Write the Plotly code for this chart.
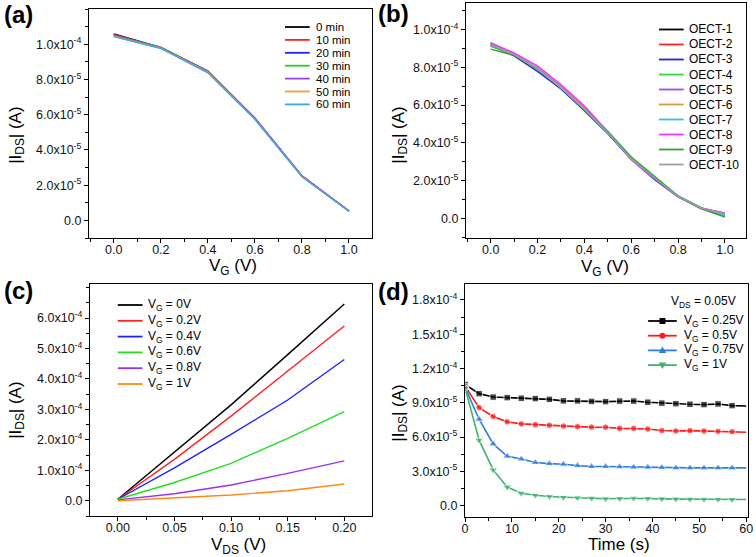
import numpy as np
import plotly.graph_objects as go

W, H = 756, 557
FONT = "Liberation Sans, Arial, sans-serif"


def PX(x):
    return x / W


def PY(y):
    return 1 - y / H


# ---------------- data ----------------
# (a) transfer curves over time (values in 1e-4 A)
vg_a = [0.0, 0.2, 0.4, 0.6, 0.8, 1.0]
names_a = ["0 min", "10 min", "20 min", "30 min", "40 min", "50 min", "60 min"]
colors_a = ["#000000", "#FF2020", "#2020FF", "#20D020", "#9A40F0", "#FF9A30", "#35A8F5"]
ids_0 = [1.058, 0.982, 0.848, 0.578, 0.252, 0.053]
ids_10 = [1.055, 0.980, 0.846, 0.580, 0.253, 0.053]
ids_20 = [1.052, 0.979, 0.844, 0.576, 0.251, 0.052]
ids_30 = [1.050, 0.984, 0.845, 0.577, 0.250, 0.053]
ids_40 = [1.048, 0.981, 0.843, 0.582, 0.252, 0.054]
ids_50 = [1.045, 0.978, 0.840, 0.575, 0.249, 0.052]
ids_60 = [1.043, 0.976, 0.838, 0.574, 0.248, 0.052]
series_a = [ids_0, ids_10, ids_20, ids_30, ids_40, ids_50, ids_60]

# (b) device-to-device transfer curves (values in 1e-4 A)
vg_b = [0.0, 0.1, 0.2, 0.3, 0.4, 0.5, 0.6, 0.7, 0.8, 0.9, 1.0]
names_b = ["OECT-1", "OECT-2", "OECT-3", "OECT-4", "OECT-5",
           "OECT-6", "OECT-7", "OECT-8", "OECT-9", "OECT-10"]
colors_b = ["#000000", "#FF2020", "#2020FF", "#30E030", "#9A50F0",
            "#D0A040", "#40B8F5", "#FF30FF", "#3A9A3A", "#A0A0A0"]
oect_1 = [0.920, 0.870, 0.790, 0.690, 0.575, 0.452, 0.318, 0.213, 0.117, 0.053, 0.022]
oect_2 = [0.925, 0.872, 0.798, 0.697, 0.582, 0.455, 0.320, 0.212, 0.118, 0.054, 0.026]
oect_3 = [0.915, 0.860, 0.778, 0.685, 0.570, 0.448, 0.312, 0.205, 0.114, 0.051, 0.020]
oect_4 = [0.910, 0.865, 0.792, 0.698, 0.580, 0.462, 0.326, 0.222, 0.120, 0.056, 0.014]
oect_5 = [0.920, 0.868, 0.792, 0.700, 0.586, 0.456, 0.320, 0.214, 0.117, 0.054, 0.026]
oect_6 = [0.925, 0.870, 0.802, 0.702, 0.582, 0.455, 0.316, 0.212, 0.117, 0.053, 0.022]
oect_7 = [0.932, 0.873, 0.794, 0.694, 0.578, 0.452, 0.318, 0.214, 0.118, 0.053, 0.018]
oect_8 = [0.928, 0.876, 0.808, 0.708, 0.596, 0.458, 0.312, 0.210, 0.116, 0.054, 0.028]
oect_9 = [0.896, 0.863, 0.788, 0.690, 0.574, 0.456, 0.322, 0.218, 0.115, 0.050, 0.007]
oect_10 = [0.918, 0.868, 0.790, 0.692, 0.577, 0.453, 0.316, 0.212, 0.116, 0.053, 0.025]
series_b = [oect_1, oect_2, oect_3, oect_4, oect_5, oect_6, oect_7, oect_8, oect_9, oect_10]

# (c) output curves (values in 1e-4 A)
vds_c = [0.0, 0.05, 0.10, 0.15, 0.20]
names_c = ["V<sub>G</sub> = 0V", "V<sub>G</sub> = 0.2V", "V<sub>G</sub> = 0.4V",
           "V<sub>G</sub> = 0.6V", "V<sub>G</sub> = 0.8V", "V<sub>G</sub> = 1V"]
colors_c = ["#000000", "#FF2020", "#2020FF", "#20E020", "#9A30F0", "#FF8A10"]
out_0 = [0.05, 1.60, 3.15, 4.80, 6.46]
out_02 = [0.05, 1.36, 2.78, 4.26, 5.74]
out_04 = [0.05, 1.08, 2.18, 3.31, 4.64]
out_06 = [0.05, 0.60, 1.23, 2.05, 2.93]
out_08 = [0.03, 0.23, 0.52, 0.90, 1.31]
out_1 = [0.00, 0.09, 0.19, 0.33, 0.55]
series_c = [out_0, out_02, out_04, out_06, out_08, out_1]

# (d) transient response at V_DS = 0.05 V (values in 1e-5 A)
time_d = [0, 3, 6, 9, 12, 15, 18, 21, 24, 27, 30, 33, 36, 39, 42, 45, 48, 51, 54, 57, 60]
names_d = ["V<sub>G</sub> = 0.25V", "V<sub>G</sub> = 0.5V",
           "V<sub>G</sub> = 0.75V", "V<sub>G</sub> = 1V"]
colors_d = ["#000000", "#FF1A1A", "#2F7DE0", "#3DB36E"]
symbols_d = ["square", "circle", "triangle-up", "triangle-down"]
tr_025 = [10.6, 9.80, 9.50, 9.45, 9.40, 9.37, 9.30, 9.17, 9.17, 9.12, 9.10,
          9.15, 9.15, 9.05, 8.97, 8.92, 8.87, 8.84, 8.90, 8.75, 8.72]
tr_05 = [10.45, 8.58, 7.80, 7.33, 7.15, 7.08, 7.03, 6.96, 6.91, 6.87, 6.86,
         6.76, 6.76, 6.70, 6.57, 6.53, 6.56, 6.53, 6.50, 6.47, 6.42]
tr_075 = [10.35, 7.56, 5.40, 4.32, 4.07, 3.77, 3.67, 3.62, 3.50, 3.42, 3.42,
          3.39, 3.36, 3.36, 3.33, 3.30, 3.30, 3.30, 3.30, 3.30, 3.30]
tr_1 = [10.3, 5.73, 3.12, 1.62, 1.08, 0.90, 0.80, 0.72, 0.68, 0.65, 0.60,
        0.62, 0.65, 0.62, 0.59, 0.57, 0.56, 0.55, 0.54, 0.53, 0.53]
series_d = [tr_025, tr_05, tr_075, tr_1]

# ---------------- figure ----------------
fig = go.Figure()

for name, col, vals in zip(names_a, colors_a, series_a):
    fig.add_trace(go.Scatter(x=vg_a, y=[v * 1e-4 for v in vals], mode="lines", name=name,
                             line=dict(color=col, width=1.4), xaxis="x", yaxis="y",
                             showlegend=False))
for name, col, vals in zip(names_b, colors_b, series_b):
    fig.add_trace(go.Scatter(x=vg_b, y=[v * 1e-4 for v in vals], mode="lines", name=name,
                             line=dict(color=col, width=1.4), xaxis="x2", yaxis="y2",
                             showlegend=False))
for name, col, vals in zip(names_c, colors_c, series_c):
    fig.add_trace(go.Scatter(x=vds_c, y=[v * 1e-4 for v in vals], mode="lines", name=name,
                             line=dict(color=col, width=1.4), xaxis="x3", yaxis="y3",
                             showlegend=False))
for name, col, sym, vals in zip(names_d, colors_d, symbols_d, series_d):
    base = 6.5 if sym in ("square", "circle") else 8
    sizes = [base] * (len(time_d) - 1) + [0]
    fig.add_trace(go.Scatter(x=time_d, y=[v * 1e-5 for v in vals], mode="lines+markers",
                             name=name, line=dict(color=col, width=1.6),
                             marker=dict(symbol=sym, size=sizes, color=col),
                             xaxis="x4", yaxis="y4", showlegend=False))


def sci(v):
    if v == 0:
        return "0.0"
    e = int(np.floor(np.log10(abs(v)) + 1e-9))
    m = v / 10 ** e
    return f"{m:.1f}x10<sup>{e}</sup>"


def axis(domain, rng, tickvals, ticktext, minor_step, anchor, is_x):
    lo, hi = rng
    start = np.ceil(lo / minor_step - 1e-9) * minor_step
    minors = [float(v) for v in np.arange(start, hi + 1e-12, minor_step)]
    d = dict(domain=domain, range=rng, tickmode="array", tickvals=tickvals, ticktext=ticktext,
             ticks="outside", ticklen=4, tickwidth=1.2, tickcolor="black",
             showline=True, linecolor="black", linewidth=1.4, mirror=True,
             showgrid=False, zeroline=False, anchor=anchor, ticklabeloverflow="allow",
             tickfont=dict(family=FONT, size=12.5, color="#111111"),
             minor=dict(tickvals=minors, ticks="outside", ticklen=2.5, tickwidth=1,
                        tickcolor="black", showgrid=False))
    if is_x:
        d["ticklabelstandoff"] = -4
    return d


yt_ab = [0, 2e-5, 4e-5, 6e-5, 8e-5, 1e-4]
yt_c = [0, 1e-4, 2e-4, 3e-4, 4e-4, 5e-4, 6e-4]
yt_d = [0, 3e-5, 6e-5, 9e-5, 1.2e-4, 1.5e-4, 1.8e-4]
xt_ab = [0.0, 0.2, 0.4, 0.6, 0.8, 1.0]
xt_c = [0.0, 0.05, 0.10, 0.15, 0.20]
xt_d = [0, 10, 20, 30, 40, 50, 60]

fig.update_layout(
    xaxis=axis([PX(87), PX(373)], [-0.105, 1.098], xt_ab, [f"{v:.1f}" for v in xt_ab], 0.1, "y", True),
    yaxis=axis([PY(238), PY(9)], [-1.0e-5, 1.2e-4], yt_ab, [sci(v) for v in yt_ab], 1e-5, "x", False),
    xaxis2=axis([PX(468), PX(751)], [-0.105, 1.09], xt_ab, [f"{v:.1f}" for v in xt_ab], 0.1, "y2", True),
    yaxis2=axis([PY(238), PY(3)], [-1.04e-5, 1.14e-4], yt_ab, [sci(v) for v in yt_ab], 1e-5, "x2", False),
    xaxis3=axis([PX(88), PX(373)], [-0.0245, 0.2245], xt_c, [f"{v:.2f}" for v in xt_c], 0.025, "y3", True),
    yaxis3=axis([PY(516), PY(284)], [-0.5e-4, 7.12e-4], yt_c, [sci(v) for v in yt_c], 0.5e-4, "x3", False),
    xaxis4=axis([PX(467), PX(753)], [0, 60.4], xt_d, [str(v) for v in xt_d], 5, "y4", True),
    yaxis4=axis([PY(517), PY(284)], [-1.0e-5, 1.94e-4], yt_d, [sci(v) for v in yt_d], 1.5e-5, "x4", False),
)

annotations = []
shapes = []


def text(s, x, y, size=12, xanchor="left", angle=0, bold=False, yanchor="middle"):
    annotations.append(dict(text=f"<b>{s}</b>" if bold else s, x=PX(x), y=PY(y),
                            xref="paper", yref="paper", showarrow=False, borderpad=0,
                            xanchor=xanchor, yanchor=yanchor, textangle=angle,
                            font=dict(family=FONT, size=size, color="black")))


# panel labels
text("(a)", 0, 15, size=24, bold=True)
text("(b)", 378, 13, size=24, bold=True)
text("(c)", 0, 290, size=24, bold=True)
text("(d)", 378, 291, size=24, bold=True)

# axis titles
ytitle = "|I<sub>DS</sub>| (A)"
text(ytitle, 14, 135, size=17, xanchor="center", angle=-90)
text(ytitle, 401, 135, size=17, xanchor="center", angle=-90)
text(ytitle, 14, 410, size=17, xanchor="center", angle=-90)
text(ytitle, 401, 413, size=17, xanchor="center", angle=-90)
text("V<sub>G</sub> (V)", 232, 267, size=17, xanchor="center")
text("V<sub>G</sub> (V)", 608, 268, size=17, xanchor="center")
text("V<sub>DS</sub> (V)", 238, 546, size=17, xanchor="center")
text("Time (s)", 623, 544, size=17, xanchor="center")


def legend(names, colors, xl0, xl1, xt, y0, dy, fsize=12, symbols=None):
    for i, (n, c) in enumerate(zip(names, colors)):
        yc = y0 + i * dy
        shapes.append(dict(type="line", xref="paper", yref="paper",
                           x0=PX(xl0), x1=PX(xl1), y0=PY(yc), y1=PY(yc),
                           line=dict(color=c, width=1.8)))
        text(n, xt, yc, size=fsize)
        if symbols:
            xm = (xl0 + xl1) / 2
            s = symbols[i]
            r = 3
            if s == "square":
                shapes.append(dict(type="rect", xref="paper", yref="paper",
                                   x0=PX(xm - r), x1=PX(xm + r), y0=PY(yc - r), y1=PY(yc + r),
                                   fillcolor=c, line=dict(width=0)))
            elif s == "circle":
                shapes.append(dict(type="circle", xref="paper", yref="paper",
                                   x0=PX(xm - r), x1=PX(xm + r), y0=PY(yc - r), y1=PY(yc + r),
                                   fillcolor=c, line=dict(width=0)))
            else:
                sgn = -1 if s == "triangle-up" else 1
                p = (f"M {PX(xm - 3.8)} {PY(yc - sgn * 2.6)} L {PX(xm + 3.8)} {PY(yc - sgn * 2.6)} "
                     f"L {PX(xm)} {PY(yc + sgn * 3.8)} Z")
                shapes.append(dict(type="path", xref="paper", yref="paper", path=p,
                                   fillcolor=c, line=dict(width=0)))


legend(names_a, colors_a, 285, 310, 315, 27, 12.9, fsize=11.5)
legend(names_b, colors_b, 663, 688, 692, 29.5, 15.0)
legend(names_c, colors_c, 116, 141, 146, 305, 15.8)
text("V<sub>DS</sub> = 0.05V", 742, 302, size=12, xanchor="right")
legend(names_d, colors_d, 652, 681, 687, 321, 14.7, symbols=symbols_d)

fig.update_layout(width=W, height=H, margin=dict(l=0, r=0, t=0, b=0),
                  paper_bgcolor="white", plot_bgcolor="white",
                  showlegend=False, annotations=annotations, shapes=shapes,
                  font=dict(family=FONT, color="black"))

fig.write_html("out.html", config={"displayModeBar": False},
               post_script="document.body.style.margin='0';document.body.style.padding='0';")
